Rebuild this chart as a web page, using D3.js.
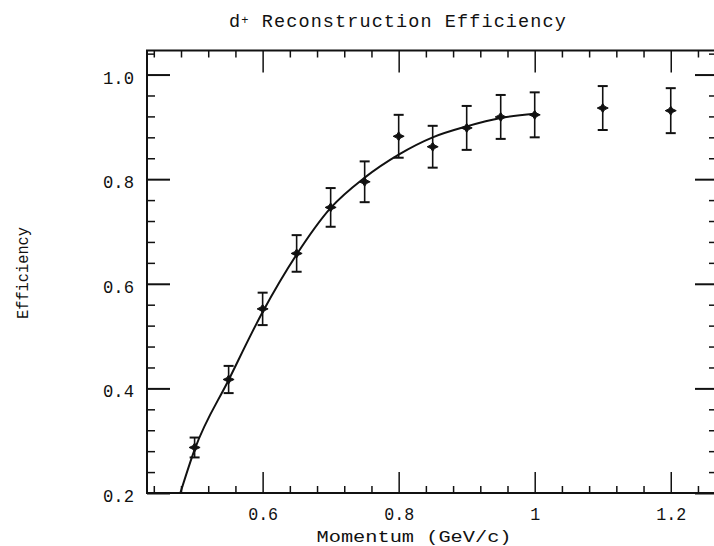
<!DOCTYPE html>
<html>
<head>
<meta charset="utf-8">
<script src="https://cdn.jsdelivr.net/npm/d3@7"></script>
<style>
  html, body { margin: 0; padding: 0; background: #fff; }
  svg { display: block; }
  text { font-family: "Liberation Mono", "DejaVu Sans Mono", monospace; fill: #111; }
</style>
</head>
<body>
<script>
// Measured efficiency per momentum bin
const momentum   = [0.50, 0.55, 0.60, 0.65, 0.70, 0.75, 0.80, 0.85, 0.90, 0.95, 1.00, 1.10, 1.20];
const efficiency = [0.287, 0.417, 0.552, 0.658, 0.746, 0.795, 0.882, 0.862, 0.898, 0.919, 0.923, 0.936, 0.931];
const errors     = [0.019, 0.026, 0.031, 0.035, 0.037, 0.039, 0.041, 0.040, 0.042, 0.042, 0.043, 0.042, 0.043];

// Fitted curve, sampled
const fitMomentum   = [0.479, 0.50, 0.55, 0.60, 0.65, 0.70, 0.75, 0.80, 0.85, 0.90, 0.95, 1.00];
const fitEfficiency = [0.200, 0.283, 0.416, 0.546, 0.656, 0.745, 0.803, 0.847, 0.880, 0.901, 0.917, 0.925];

// Axis ticks
const xMajor = [0.6, 0.8, 1.0, 1.2];
const xMajorLabels = ["0.6", "0.8", "1", "1.2"];
const xMinor = [0.44, 0.48, 0.52, 0.56, 0.64, 0.68, 0.72, 0.76, 0.84, 0.88, 0.92, 0.96, 1.04, 1.08, 1.12, 1.16, 1.24];
const yMajor = [0.2, 0.4, 0.6, 0.8, 1.0];
const yMajorLabels = ["0.2", "0.4", "0.6", "0.8", "1.0"];
const yMinor = [0.24, 0.28, 0.32, 0.36, 0.44, 0.48, 0.52, 0.56, 0.64, 0.68, 0.72, 0.76, 0.84, 0.88, 0.92, 0.96, 1.04];

const W = 714, H = 546;
const plotLeft = 147, plotRight = 717, plotTop = 50.5, plotBottom = 493;

const x = d3.scaleLinear().domain([0.430, 1.268]).range([plotLeft, plotRight]);
const y = d3.scaleLinear().domain([0.2, 1.046]).range([plotBottom, plotTop]);

const svg = d3.select("body").append("svg")
  .attr("width", W).attr("height", H)
  .style("overflow", "hidden");

svg.append("rect").attr("width", W).attr("height", H).attr("fill", "#fff");

// Title
const title = svg.append("text")
  .attr("x", 398).attr("y", 26.5)
  .attr("text-anchor", "middle")
  .style("font-size", "18.5px")
  .style("letter-spacing", "1.1px");
title.append("tspan").text("d");
title.append("tspan").style("font-size", "12px").attr("dy", -3).text("+");
title.append("tspan").attr("dy", 3).text(" Reconstruction Efficiency");

function styleAxis(g, w) {
  g.select(".domain").remove();
  g.selectAll(".tick line").attr("stroke", "#111").attr("stroke-width", w);
}

// Bottom axis: major ticks with labels, minor ticks
const gxB = svg.append("g").attr("transform", `translate(0,${plotBottom})`)
  .call(d3.axisBottom(x).tickValues(xMajor).tickSizeInner(-21).tickSizeOuter(0).tickPadding(14)
    .tickFormat((d, i) => xMajorLabels[i]));
styleAxis(gxB, 1.5);
gxB.selectAll("text").style("font-size", "19px").attr("fill", "#111")
  .attr("textLength", (d, i) => xMajorLabels[i].length * 10)
  .attr("lengthAdjust", "spacingAndGlyphs");
svg.append("g").attr("transform", `translate(0,${plotBottom})`)
  .call(d3.axisBottom(x).tickValues(xMinor).tickSizeInner(-7).tickSizeOuter(0).tickFormat(""))
  .call(g => styleAxis(g, 1.5));

// Top axis
svg.append("g").attr("transform", `translate(0,${plotTop})`)
  .call(d3.axisTop(x).tickValues(xMajor).tickSizeInner(-22).tickSizeOuter(0).tickFormat(""))
  .call(g => styleAxis(g, 1.5));
svg.append("g").attr("transform", `translate(0,${plotTop})`)
  .call(d3.axisTop(x).tickValues(xMinor).tickSizeInner(-7).tickSizeOuter(0).tickFormat(""))
  .call(g => styleAxis(g, 1.5));

// Left axis
const gyL = svg.append("g").attr("transform", `translate(${plotLeft},0)`)
  .call(d3.axisLeft(y).tickValues(yMajor).tickSizeInner(-23).tickSizeOuter(0).tickPadding(13)
    .tickFormat((d, i) => yMajorLabels[i]));
styleAxis(gyL, 2);
gyL.selectAll("text").style("font-size", "19px").attr("fill", "#111").attr("dy", "0.45em")
  .attr("textLength", 31).attr("lengthAdjust", "spacingAndGlyphs");
svg.append("g").attr("transform", `translate(${plotLeft},0)`)
  .call(d3.axisLeft(y).tickValues(yMinor).tickSizeInner(-8).tickSizeOuter(0).tickFormat(""))
  .call(g => styleAxis(g, 1.5));

// Right axis
svg.append("g").attr("transform", `translate(${plotRight},0)`)
  .call(d3.axisRight(y).tickValues(yMajor).tickSizeInner(-22).tickSizeOuter(0).tickFormat(""))
  .call(g => styleAxis(g, 2));
svg.append("g").attr("transform", `translate(${plotRight},0)`)
  .call(d3.axisRight(y).tickValues(yMinor).tickSizeInner(-8).tickSizeOuter(0).tickFormat(""))
  .call(g => styleAxis(g, 1.5));

// Frame
svg.append("rect")
  .attr("x", plotLeft).attr("y", plotTop)
  .attr("width", plotRight - plotLeft).attr("height", plotBottom - plotTop)
  .attr("fill", "none").attr("stroke", "#111").attr("stroke-width", 2);

// Axis titles
svg.append("text")
  .attr("x", 414).attr("y", 541.5)
  .attr("text-anchor", "middle")
  .style("font-size", "16px")
  .attr("textLength", 195).attr("lengthAdjust", "spacingAndGlyphs")
  .text("Momentum (GeV/c)");

svg.append("text")
  .attr("transform", "translate(28,273) rotate(-90)")
  .attr("text-anchor", "middle")
  .style("font-size", "16px")
  .attr("textLength", 92).attr("lengthAdjust", "spacingAndGlyphs")
  .text("Efficiency");

// Fit curve
const fitData = fitMomentum.map((m, i) => [m, fitEfficiency[i]]);
svg.append("path")
  .datum(fitData)
  .attr("fill", "none").attr("stroke", "#111").attr("stroke-width", 2)
  .attr("d", d3.line().x(d => x(d[0])).y(d => y(d[1])).curve(d3.curveMonotoneX));

// Data points with error bars
const pts = momentum.map((m, i) => ({ m, e: efficiency[i], err: errors[i] }));
const gp = svg.append("g").attr("stroke", "#111").attr("fill", "#111");
const cap = 5;
gp.selectAll("line.bar").data(pts).join("line").attr("class", "bar")
  .attr("x1", d => x(d.m)).attr("x2", d => x(d.m))
  .attr("y1", d => y(d.e - d.err)).attr("y2", d => y(d.e + d.err))
  .attr("stroke-width", 1.6);
gp.selectAll("line.capTop").data(pts).join("line").attr("class", "capTop")
  .attr("x1", d => x(d.m) - cap).attr("x2", d => x(d.m) + cap)
  .attr("y1", d => y(d.e + d.err)).attr("y2", d => y(d.e + d.err))
  .attr("stroke-width", 2);
gp.selectAll("line.capBot").data(pts).join("line").attr("class", "capBot")
  .attr("x1", d => x(d.m) - cap).attr("x2", d => x(d.m) + cap)
  .attr("y1", d => y(d.e - d.err)).attr("y2", d => y(d.e - d.err))
  .attr("stroke-width", 2);
// four-pointed star marker
const star = "M-5.5,0L-1.8,-1.8L0,-4.5L1.8,-1.8L5.5,0L1.8,1.8L0,4.5L-1.8,1.8Z";
gp.selectAll("path.mk").data(pts).join("path").attr("class", "mk")
  .attr("transform", d => `translate(${x(d.m)},${y(d.e)})`)
  .attr("d", star).attr("stroke-width", 1);
</script>
</body>
</html>
